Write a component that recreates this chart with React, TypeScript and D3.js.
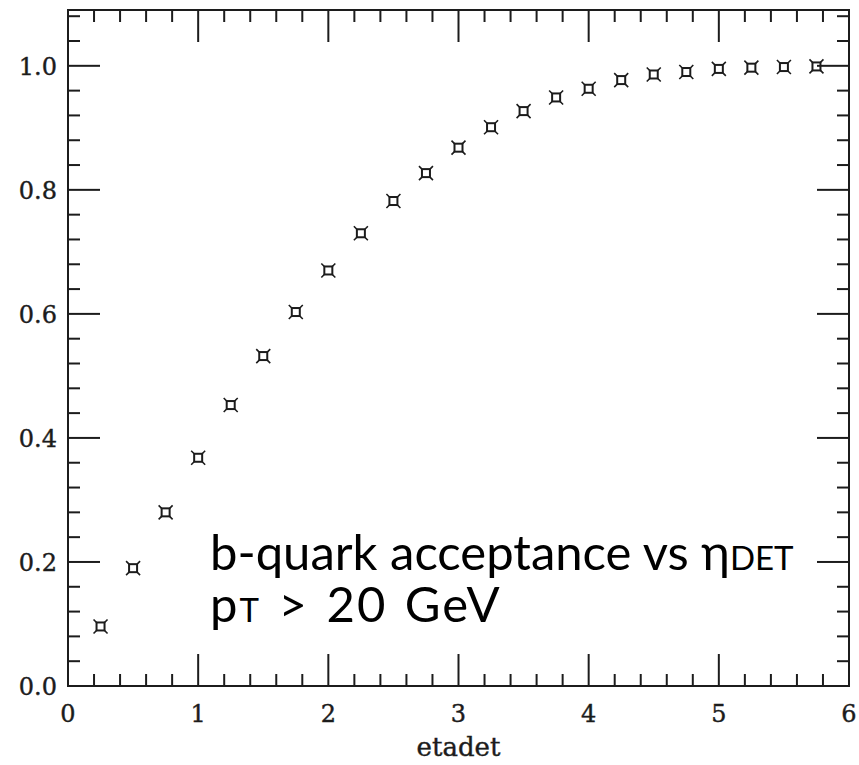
import React from "react";
import * as d3 from "d3";

const etaValues = [0.25, 0.5, 0.75, 1.0, 1.25, 1.5, 1.75, 2.0, 2.25, 2.5, 2.75, 3.0, 3.25, 3.5, 3.75, 4.0, 4.25, 4.5, 4.75, 5.0, 5.25, 5.5, 5.75];
const acceptance = [0.096, 0.19, 0.28, 0.368, 0.453, 0.532, 0.603, 0.670, 0.730, 0.782, 0.827, 0.868, 0.901, 0.927, 0.949, 0.963, 0.977, 0.986, 0.990, 0.995, 0.997, 0.998, 0.999];
const xTickLabels = ["0", "1", "2", "3", "4", "5", "6"];
const yTickLabels = ["0.0", "0.2", "0.4", "0.6", "0.8", "1.0"];
const xLabel = "etadet";
const line1 = "b-quark acceptance vs ";
const line1Greek = "η";
const line1Sub = "DET";
const line2Main = "p";
const line2Sub = "T";
const line2Rest = " > 20 GeV";

const W = 859;
const H = 765;
const L = 68, R = 849, T = 10, B = 686;
const ink = "#1c1c1c";

export default function App() {
  const x = d3.scaleLinear().domain([0, 6]).range([L, R]);
  const y = d3.scaleLinear().domain([0, 1.09]).range([B, T]);

  const xMajor = d3.range(0, 6.0001, 1);
  const xMinor = d3.range(0, 6.0001, 0.2).filter((v) => Math.abs(v - Math.round(v)) > 1e-6);
  const yMajor = d3.range(0, 1.0001, 0.2);
  const yMinor = d3.range(0, 1.09, 0.04).filter((v) => Math.abs(v / 0.2 - Math.round(v / 0.2)) > 1e-6);

  const maj = 32, min = 12;
  const sw = 2;

  const tickFont = "'DejaVu Serif', serif";
  const annFont = "Lato, 'Open Sans', sans-serif";

  return (
    <svg width={W} height={H} style={{ position: "absolute", left: 0, top: 0, background: "#fff" }}>
      <rect x={0} y={0} width={W} height={H} fill="#fff" />
      <g stroke={ink} strokeWidth={sw} fill="none">
        <rect x={L} y={T} width={R - L} height={B - T} />
        {xMajor.map((v) => (
          <g key={"xM" + v}>
            <line x1={x(v)} x2={x(v)} y1={B} y2={B - maj} />
            <line x1={x(v)} x2={x(v)} y1={T} y2={T + maj} />
          </g>
        ))}
        {xMinor.map((v, i) => (
          <g key={"xm" + i}>
            <line x1={x(v)} x2={x(v)} y1={B} y2={B - min} />
            <line x1={x(v)} x2={x(v)} y1={T} y2={T + min} />
          </g>
        ))}
        {yMajor.map((v, i) => (
          <g key={"yM" + i}>
            <line x1={L} x2={L + maj} y1={y(v)} y2={y(v)} />
            <line x1={R} x2={R - maj} y1={y(v)} y2={y(v)} />
          </g>
        ))}
        {yMinor.map((v, i) => (
          <g key={"ym" + i}>
            <line x1={L} x2={L + min} y1={y(v)} y2={y(v)} />
            <line x1={R} x2={R - min} y1={y(v)} y2={y(v)} />
          </g>
        ))}
      </g>
      <g fill={ink} stroke={ink} strokeWidth={0.4} fontFamily={tickFont} fontSize={24}>
        {xTickLabels.map((t, i) => (
          <text key={"xl" + i} x={x(xMajor[i])} y={722} textAnchor="middle">{t}</text>
        ))}
        {yTickLabels.map((t, i) => (
          <text key={"yl" + i} x={57} y={y(yMajor[i]) + 9} textAnchor="end">{t}</text>
        ))}
        <text x={(L + R) / 2} y={756} textAnchor="middle" fontSize={26}>{xLabel}</text>
      </g>
      <g stroke={ink} fill="none">
        {etaValues.map((v, i) => {
          const cx = x(v), cy = y(acceptance[i]);
          const h = 4, w = 7;
          return (
            <g key={"p" + i} transform={`translate(${cx},${cy})`}>
              <rect x={-h} y={-h} width={2 * h} height={2 * h} strokeWidth={2} />
              <path d={`M${-h},${-h}L${-w},${-w}M${h},${-h}L${w},${-w}M${-h},${h}L${-w},${w}M${h},${h}L${w},${w}`} strokeWidth={1.6} />
            </g>
          );
        })}
      </g>
      <g fill="#000" fontFamily={annFont}>
        <text x={210} y={570} fontSize={49}>
          {line1}
          <tspan>{line1Greek}</tspan>
          <tspan fontSize={33}>{line1Sub}</tspan>
        </text>
        <text x={210} y={622} fontSize={49} letterSpacing={2} wordSpacing={3}>
          {line2Main}
          <tspan fontSize={33}>{line2Sub}</tspan>
          {line2Rest}
        </text>
      </g>
    </svg>
  );
}
